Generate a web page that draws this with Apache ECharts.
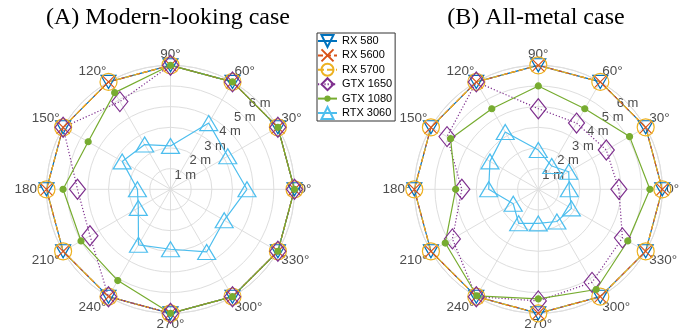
<!DOCTYPE html>
<html>
<head>
<meta charset="utf-8">
<script src="https://cdn.jsdelivr.net/npm/echarts@6/dist/echarts.min.js"></script>
<style>
html,body{margin:0;padding:0;background:#fff;}
#c{width:686px;height:335px;}
</style>
</head>
<body>
<div id="c"></div>
<script>
// ---- data ----
const angles = [0, 30, 60, 90, 120, 150, 180, 210, 240, 270, 300, 330];
const rTicks = [1, 2, 3, 4, 5, 6];
const seriesNames = ['RX 580', 'RX 5600', 'RX 5700', 'GTX 1650', 'GTX 1080', 'RTX 3060'];
const titles = ['(A) Modern-looking case', '(B) All-metal case'];

// Plot A (modern-looking case), metres, by angle
const rx580A   = [6, 6, 6, 6, 6, 6, 6, 6, 6, 6, 6, 6];
const rx5600A  = [6, 6, 6, 6, 6, 6, 6, 6, 6, 6, 6, 6];
const rx5700A  = [6, 6, 6, 6, 6, 6, 6, 6, 6, 6, 6, 6];
const gtx1650A = [6, 6, 6, 6, 4.9, 6, 4.5, 4.5, 6, 6, 6, 6];
const gtx1080A = [6, 6, 6, 6, 5.4, 4.6, 5.2, 5.0, 5.1, 6, 6, 6];
const rtx3060A = [3.7, 3.2, 3.7, 2.1, 2.5, 2.7, 1.6, 1.8, 3.1, 2.9, 3.5, 3.0];

// Plot B (all-metal case)
const rx580B   = [6, 6, 6, 6, 6, 6, 6, 6, 6, 6, 6, 6];
const rx5600B  = [6, 6, 6, 6, 6, 6, 6, 6, 6, 6, 6, 6];
const rx5700B  = [6, 6, 6, 6, 6, 6, 6, 6, 6, 6, 6, 6];
const gtx1650B = [3.9, 3.8, 3.7, 3.9, 6, 5.1, 3.7, 4.8, 6, 5.4, 5.2, 4.7];
const gtx1080B = [5.4, 5.1, 4.5, 5.0, 4.5, 4.9, 4.0, 5.2, 5.95, 5.3, 5.6, 5.0];
const rtx3060B = [1.5, 1.7, 1.3, 1.9, 3.2, 2.7, 2.4, 1.4, 1.9, 1.65, 1.8, 1.85];

const valuesA = [rx580A, rx5600A, rx5700A, gtx1650A, gtx1080A, rtx3060A];
const valuesB = [rx580B, rx5600B, rx5700B, gtx1650B, gtx1080B, rtx3060B];

// ---- styles ----
const smallDot = 'path://M0,0M14,14M9.5,7A2.5,2.5,0,1,1,4.5,7A2.5,2.5,0,1,1,9.5,7Z';
const styles = [
  {color: '#0072BD', symbol: 'triangle', size: [15, 13], rotate: 180, dash: 'solid', fill: 'transparent'},
  {color: '#D95319', symbol: 'path://M0,0L10,10M10,0L0,10', size: 13, rotate: 0, dash: [5, 3], fill: 'transparent'},
  {color: '#EDB120', symbol: 'circle', size: 17, rotate: 0, dash: [6, 3], fill: 'transparent'},
  {color: '#7E2F8E', symbol: 'diamond', size: [16, 20], rotate: 0, dash: [1.2, 2], fill: 'transparent'},
  {color: '#77AC30', symbol: smallDot, size: 16.8, rotate: 0, dash: 'solid', fill: '#77AC30'},
  {color: '#4DBEEE', symbol: 'triangle', size: [18, 15], rotate: 0, dash: 'solid', fill: 'transparent'}
];

const centers = [[170.5, 189.3], [538.3, 189.3]];
const R = 124;
const gridColor = '#dedede';
const labelColor = '#4d4d4d';
const sans = 'Liberation Sans, Arial, sans-serif';

const polar = [], angleAxis = [], radiusAxis = [], series = [], title = [];

centers.forEach((c, p) => {
  // main polar
  polar.push({center: c, radius: R});
  angleAxis.push({
    polarIndex: 2 * p, type: 'value', min: 0, max: 360, interval: 30,
    startAngle: 0, clockwise: false,
    axisLine: {show: true, lineStyle: {color: gridColor, width: 1}},
    axisTick: {show: false},
    splitLine: {show: true, lineStyle: {color: gridColor, width: 1}},
    axisLabel: {show: true, margin: 4, color: labelColor, fontSize: 13.5, fontFamily: sans,
      formatter: v => (v === 360 ? '' : v + '°')}
  });
  radiusAxis.push({
    polarIndex: 2 * p, type: 'value', min: 0, max: 6, interval: 1,
    axisLine: {show: false}, axisTick: {show: false}, axisLabel: {show: false},
    splitLine: {show: true, lineStyle: {color: gridColor, width: 1}}
  });
  // overlay polar for r-labels along ~44 degrees
  polar.push({center: c, radius: R});
  angleAxis.push({
    polarIndex: 2 * p + 1, type: 'value', min: 0, max: 360, startAngle: 44, clockwise: false,
    show: false
  });
  radiusAxis.push({
    polarIndex: 2 * p + 1, type: 'value', min: 0, max: 6, interval: 1,
    axisLine: {show: false}, axisTick: {show: false}, splitLine: {show: false},
    axisLabel: {show: true, margin: 0, align: 'center', verticalAlign: 'middle',
      color: labelColor, fontSize: 13, fontFamily: sans,
      formatter: v => (rTicks.indexOf(v) >= 0 ? v + ' m' : '')}
  });

  const vals = p === 0 ? valuesA : valuesB;
  seriesNames.forEach((name, i) => {
    const st = styles[i];
    const data = angles.map((a, k) => [vals[i][k], a]);
    data.push({value: [vals[i][0], 360], symbol: 'none'});
    series.push({
      type: 'line', name: name, coordinateSystem: 'polar', polarIndex: 2 * p,
      data: data, clip: false, animation: false,
      symbol: st.symbol, symbolSize: st.size, symbolRotate: st.rotate,
      showAllSymbol: true,
      lineStyle: {color: st.color, width: 1.2, type: st.dash},
      itemStyle: {color: st.fill, borderColor: st.color, borderWidth: 1.2, borderType: 'solid'},
      emphasis: {disabled: true}
    });
  });
});

title.push({text: titles[0], left: 163, top: 1, textAlign: 'center',
  textStyle: {fontFamily: 'Liberation Serif, Times New Roman, serif', fontSize: 24, fontWeight: 'normal', color: '#000'}});
title.push({text: titles[1], left: 531, top: 1, textAlign: 'center',
  textStyle: {fontFamily: 'Liberation Serif, Times New Roman, serif', fontSize: 24, fontWeight: 'normal', color: '#000'}});

const chart = echarts.init(document.getElementById('c'), null, {renderer: 'canvas'});
chart.setOption({
  animation: false,
  backgroundColor: '#fff',
  title: title,
  legend: {
    data: seriesNames, orient: 'vertical', left: 317, top: 33,
    itemWidth: 19, itemHeight: 15, itemGap: 0.4,
    padding: [1, 3, 1, 0],
    backgroundColor: '#fff', borderColor: '#333', borderWidth: 1,
    itemStyle: {borderType: 'solid'},
    textStyle: {fontFamily: sans, fontSize: 11, lineHeight: 13, color: '#000'},
    selectedMode: false
  },
  polar: polar,
  angleAxis: angleAxis,
  radiusAxis: radiusAxis,
  series: series
});
</script>
</body>
</html>
